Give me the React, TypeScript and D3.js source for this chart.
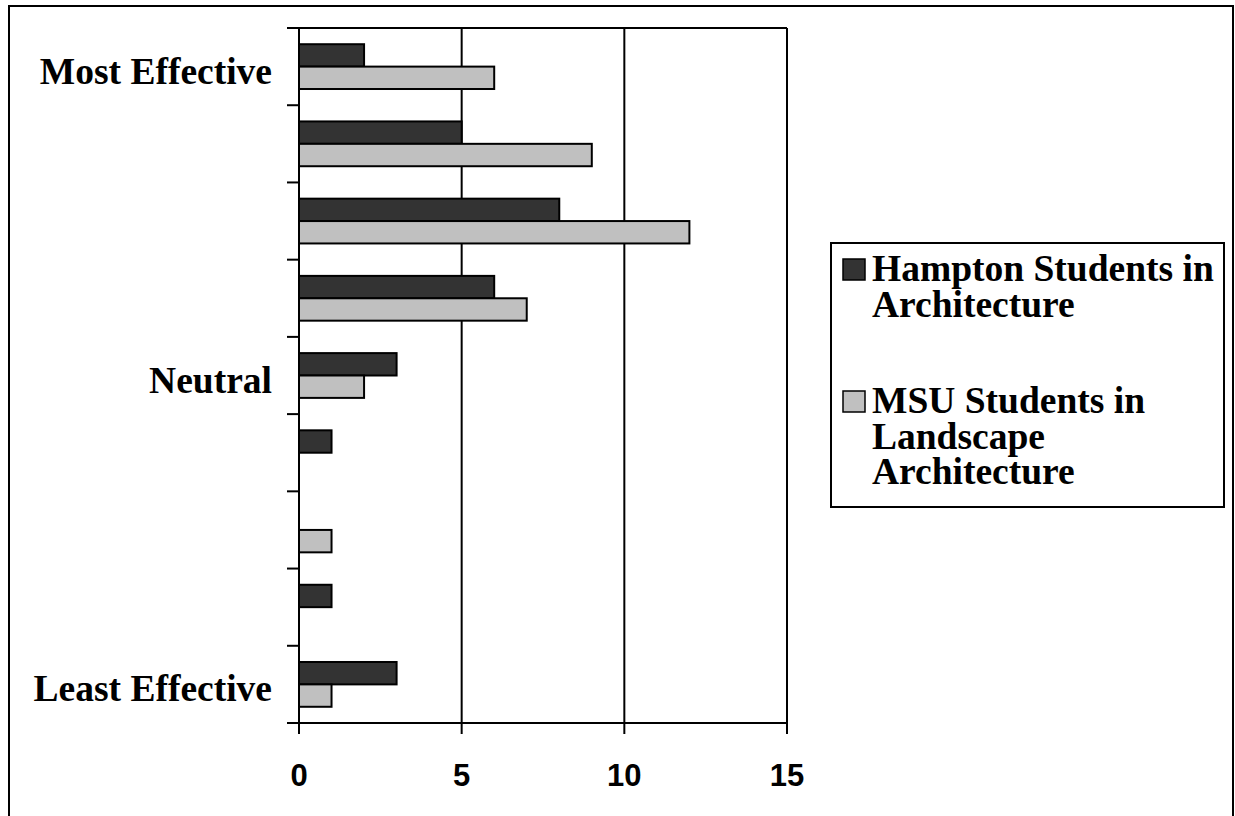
import React from "react";
import * as d3 from "d3";

// Effectiveness rating scale, top (most) to bottom (least)
const categories = ["r1", "r2", "r3", "r4", "r5", "r6", "r7", "r8", "r9"];
const categoryLabels = ["Most Effective", "", "", "", "Neutral", "", "", "", "Least Effective"];
const hamptonValues = [2, 5, 8, 6, 3, 1, 0, 1, 3];
const msuValues = [6, 9, 12, 7, 2, 0, 1, 0, 1];
const seriesNames = [
  ["Hampton Students in", "Architecture"],
  ["MSU Students in", "Landscape", "Architecture"],
];
const xTicks = [0, 5, 10, 15];

const W = 1235;
const H = 816;
const plot = { left: 299, right: 787, top: 28, bottom: 723 };
const DARK = "#333333";
const LIGHT = "#c0c0c0";

export default function App() {
  const x = d3.scaleLinear().domain([0, 15]).range([plot.left, plot.right]);
  const y = d3
    .scaleBand<string>()
    .domain(categories)
    .range([plot.top, plot.bottom])
    .paddingInner(0.42)
    .paddingOuter(0.21);
  const inner = d3
    .scaleBand<string>()
    .domain(["h", "m"])
    .range([0, y.bandwidth()]);
  const step = y.step();
  const boundaries = d3.range(categories.length + 1).map((i) => plot.top + i * step);

  const serif = "'Liberation Serif', 'Times New Roman', serif";
  const sans = "'Liberation Sans', Arial, sans-serif";

  return (
    <svg
      width={W}
      height={H}
      style={{ position: "absolute", left: 0, top: 0, background: "#fff" }}
    >
      {/* outer frame */}
      <rect x={9} y={6} width={1224} height={H} fill="none" stroke="#000" strokeWidth={2} />

      {/* vertical gridlines */}
      {xTicks.map((t) => (
        <line key={"g" + t} x1={x(t)} x2={x(t)} y1={plot.top} y2={plot.bottom} stroke="#000" strokeWidth={2} />
      ))}
      {/* plot border top */}
      <line x1={plot.left} x2={plot.right} y1={plot.top} y2={plot.top} stroke="#000" strokeWidth={2} />

      {/* bars */}
      {categories.map((c, i) => (
        <g key={c}>
          {hamptonValues[i] > 0 && (
            <rect
              x={x(0)}
              y={(y(c) ?? 0) + (inner("h") ?? 0)}
              width={x(hamptonValues[i]) - x(0)}
              height={inner.bandwidth()}
              fill={DARK}
              stroke="#000"
              strokeWidth={2}
            />
          )}
          {msuValues[i] > 0 && (
            <rect
              x={x(0)}
              y={(y(c) ?? 0) + (inner("m") ?? 0)}
              width={x(msuValues[i]) - x(0)}
              height={inner.bandwidth()}
              fill={LIGHT}
              stroke="#000"
              strokeWidth={2}
            />
          )}
        </g>
      ))}

      {/* axes */}
      <line x1={plot.left} x2={plot.left} y1={plot.top} y2={plot.bottom} stroke="#000" strokeWidth={2} />
      <line x1={plot.left - 12} x2={plot.right} y1={plot.bottom} y2={plot.bottom} stroke="#000" strokeWidth={2} />
      {boundaries.map((b, i) => (
        <line key={"yt" + i} x1={plot.left - 12} x2={plot.left} y1={b} y2={b} stroke="#000" strokeWidth={2} />
      ))}
      {xTicks.map((t) => (
        <g key={"xt" + t}>
          <line x1={x(t)} x2={x(t)} y1={plot.bottom} y2={plot.bottom + 11} stroke="#000" strokeWidth={2} />
          <text
            x={x(t)}
            y={786}
            textAnchor="middle"
            fontFamily={sans}
            fontWeight="bold"
            fontSize={31}
          >
            {t}
          </text>
        </g>
      ))}

      {/* category labels */}
      {categories.map((c, i) =>
        categoryLabels[i] ? (
          <text
            key={"l" + c}
            x={272}
            y={(y(c) ?? 0) + y.bandwidth() / 2 + 17}
            textAnchor="end"
            fontFamily={serif}
            fontWeight="bold"
            fontSize={37.5}
          >
            {categoryLabels[i]}
          </text>
        ) : null
      )}

      {/* legend */}
      <rect x={831} y={243} width={393} height={264} fill="#fff" stroke="#000" strokeWidth={2} />
      {seriesNames.map((lines, si) => {
        const base = si === 0 ? 281 : 413;
        return (
          <g key={"lg" + si}>
            <rect
              x={843}
              y={base - 22}
              width={22}
              height={21}
              fill={si === 0 ? DARK : LIGHT}
              stroke="#000"
              strokeWidth={1.5}
            />
            {lines.map((ln, li) => (
              <text
                key={li}
                x={872}
                y={base + li * 35.5}
                fontFamily={serif}
                fontWeight="bold"
                fontSize={37.5}
              >
                {ln}
              </text>
            ))}
          </g>
        );
      })}
    </svg>
  );
}
